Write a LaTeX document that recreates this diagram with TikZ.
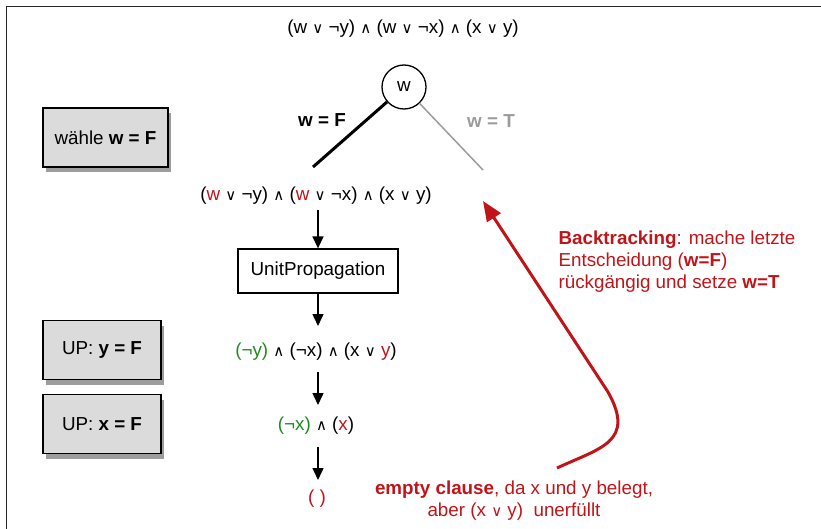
\documentclass[tikz,border=0pt]{standalone}
\usepackage{fontspec}
\setmainfont{Liberation Sans}
\newfontfamily\symf{DejaVu Sans}
\usetikzlibrary{arrows.meta,shadows}
\definecolor{myred}{RGB}{192,20,25}
\definecolor{mygreen}{RGB}{30,140,30}
\definecolor{mygray}{RGB}{155,155,155}
\newcommand{\myor}{{\symf\fontsize{15}{15}\selectfont ∨}}
\newcommand{\myand}{{\symf\fontsize{15}{15}\selectfont ∧}}
\newcommand{\R}[1]{\textcolor{myred}{#1}}
\newcommand{\G}[1]{\textcolor{mygreen}{#1}}
\begin{document}
\begin{tikzpicture}[x=1pt,y=-1pt,
  every node/.style={font=\fontsize{18.8}{22}\selectfont},
  sidebox/.style={draw, line width=1.3pt, fill=black!14,
    drop shadow={shadow xshift=3pt,shadow yshift=-5pt,fill=black!55,opacity=0.7},
    minimum height=59pt, inner sep=0pt},
  procbox/.style={draw, line width=1.3pt, minimum width=160pt, minimum height=44pt, inner sep=0pt},
  arr/.style={-{Triangle[length=12pt,width=11pt]}, line width=1.5pt},
  redarr/.style={myred, line width=3pt, -{Triangle[length=20pt,width=16pt]}}]
\useasboundingbox (0,0) rectangle (821,529);
\draw[line width=1.6pt, black!85] (6.5,529) -- (6.5,6.5) -- (821,6.5);

\node (f1) at (403,29) {(w \myor{} ¬y) \myand{} (w \myor{} ¬x) \myand{} (x \myor{} y)};

\node[circle, draw, line width=1.3pt, minimum size=44pt, inner sep=0pt] (w) at (404,87) {w};
\coordinate (lf) at (313,167);
\coordinate (rt) at (483,170);
\draw[line width=3pt] (w) -- (lf);
\draw[mygray, line width=1.5pt] (w) -- (rt);
\node (wf) at (322,120) {\textbf{w = F}};
\node[mygray] (wt) at (491,121) {\textbf{w = T}};

\node[sidebox, minimum width=125pt] (b1) at (105.5,137.5) {wähle \textbf{w = F}};
\node[sidebox, minimum width=118pt] (b2) at (102,350) {UP: \textbf{y = F}};
\node[sidebox, minimum width=118pt] (b3) at (102,424) {UP: \textbf{x = F}};

\node (f2) at (316,196) {(\R{w} \myor{} ¬y) \myand{} (\R{w} \myor{} ¬x) \myand{} (x \myor{} y)};
\node[procbox] (up) at (318,271) {UnitPropagation};
\node (f3) at (316,352) {\G{(¬y)} \myand{} (¬x) \myand{} (x \myor{} \R{y})};
\node (f4) at (316,426) {\G{(¬x)} \myand{} (\R{x})};
\node[myred] (f5) at (317,499) {( )};

\draw[arr] (up.north |- 0,210) -- (up.north);
\draw[arr] (up.south) -- (up.south |- 0,326);
\draw[arr] (up.south |- 0,372) -- (up.south |- 0,405);
\draw[arr] (up.south |- 0,447) -- (up.south |- 0,480);

\node[myred, anchor=west, align=left] (bt) at (555,262) {\textbf{Backtracking}: mache letzte\\Entscheidung (\textbf{w=F})\\rückgängig und setze \textbf{w=T}};
\node[myred, align=center] (ec) at (514,501) {\textbf{empty clause}, da x und y belegt,\\aber (x \myor{} y)\ \ unerfüllt};

\coordinate (cs) at (557,468);
\coordinate (cm) at (608,392);
\coordinate (ct) at (483,201);
\draw[redarr] (cs) .. controls (600,448) and (636,442) .. (cm) -- (ct);
\end{tikzpicture}
\end{document}
